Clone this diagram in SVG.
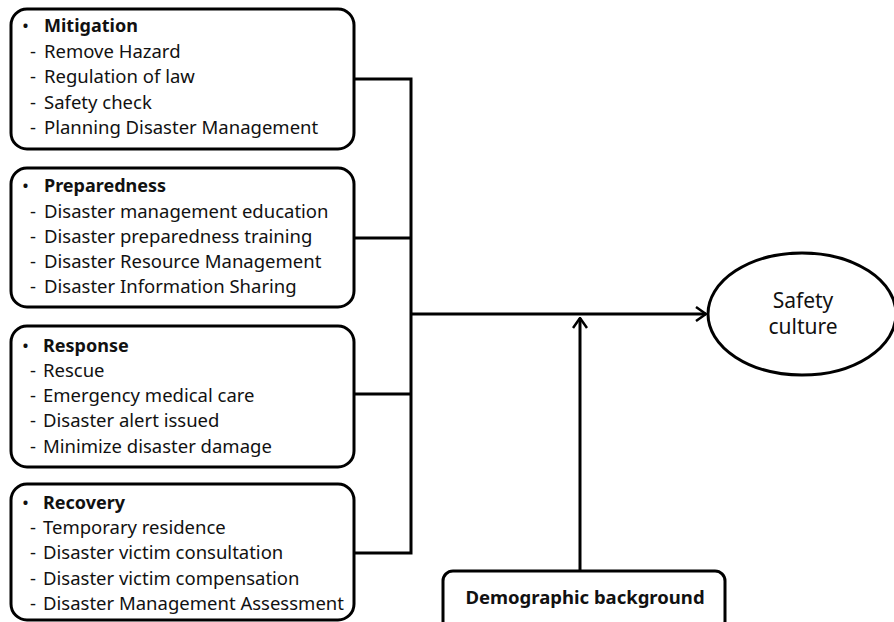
<svg xmlns="http://www.w3.org/2000/svg" width="894" height="622" viewBox="0 0 894 622">
<defs>
<style>
.box{fill:#fff;stroke:#000;stroke-width:3}
.t{font-family:"Noto Sans","Open Sans",sans-serif;font-size:18.5px;fill:#111}
.b{font-weight:bold;font-size:18px}
.e{font-size:21px}
.c{fill:none;stroke:#000;stroke-width:3}
</style>
<marker id="ah" viewBox="0 0 12 16" refX="11" refY="8" markerWidth="12" markerHeight="16" markerUnits="userSpaceOnUse" orient="auto">
<path d="M1,1 L11,8 L1,15" fill="none" stroke="#000" stroke-width="2.5"/>
</marker>
</defs>
<rect width="894" height="622" fill="#fff"/>
<g id="connectors">
<path class="c" d="M354,79 H411 V553 H354"/>
<path class="c" d="M354,238 H411"/>
<path class="c" d="M354,394 H411"/>
<path class="c" d="M411,314 H706" marker-end="url(#ah)"/>
<path class="c" d="M580,572 V318" marker-end="url(#ah)"/>
</g>
<g id="mitigation">
<rect class="box" x="11" y="9" width="343" height="140" rx="16"/>
<text class="t" x="22" y="32">•</text>
<text class="t b" x="44" y="32">Mitigation</text>
<text class="t" x="30" y="58">-<tspan x="44">Remove Hazard</tspan></text>
<text class="t" x="30" y="83">-<tspan x="44">Regulation of law</tspan></text>
<text class="t" x="30" y="109">-<tspan x="44">Safety check</tspan></text>
<text class="t" x="30" y="134">-<tspan x="44">Planning  Disaster Management</tspan></text>
</g>
<g id="preparedness">
<rect class="box" x="11" y="168" width="343" height="139" rx="16"/>
<text class="t" x="22" y="192">•</text>
<text class="t b" x="44" y="192">Preparedness</text>
<text class="t" x="30" y="218">-<tspan x="44">Disaster management education</tspan></text>
<text class="t" x="30" y="243">-<tspan x="44">Disaster preparedness training</tspan></text>
<text class="t" x="30" y="268">-<tspan x="44">Disaster Resource Management</tspan></text>
<text class="t" x="30" y="293">-<tspan x="44">Disaster Information Sharing</tspan></text>
</g>
<g id="response">
<rect class="box" x="11" y="326" width="343" height="141" rx="16"/>
<text class="t" x="22" y="352">•</text>
<text class="t b" x="43" y="352">Response</text>
<text class="t" x="30" y="377">-<tspan x="43">Rescue</tspan></text>
<text class="t" x="30" y="402">-<tspan x="43">Emergency medical care</tspan></text>
<text class="t" x="30" y="427">-<tspan x="43">Disaster alert issued</tspan></text>
<text class="t" x="30" y="453">-<tspan x="43">Minimize disaster damage</tspan></text>
</g>
<g id="recovery">
<rect class="box" x="11" y="484" width="343" height="136" rx="16"/>
<text class="t" x="22" y="509">•</text>
<text class="t b" x="43" y="509">Recovery</text>
<text class="t" x="30" y="534">-<tspan x="43">Temporary residence</tspan></text>
<text class="t" x="30" y="559">-<tspan x="43">Disaster victim consultation</tspan></text>
<text class="t" x="30" y="585">-<tspan x="43">Disaster victim compensation</tspan></text>
<text class="t" x="30" y="610">-<tspan x="43">Disaster Management Assessment</tspan></text>
</g>
<g id="safety-culture">
<ellipse cx="802" cy="314" rx="94" ry="61" fill="#fff" stroke="#000" stroke-width="3"/>
<text class="t e" x="803" y="308" text-anchor="middle">Safety</text>
<text class="t e" x="803" y="334" text-anchor="middle">culture</text>
</g>
<g id="demographic">
<rect class="box" x="443" y="571" width="282" height="60" rx="10"/>
<text class="t b" x="585" y="604" text-anchor="middle" style="font-size:18.5px">Demographic background</text>
</g>
</svg>
